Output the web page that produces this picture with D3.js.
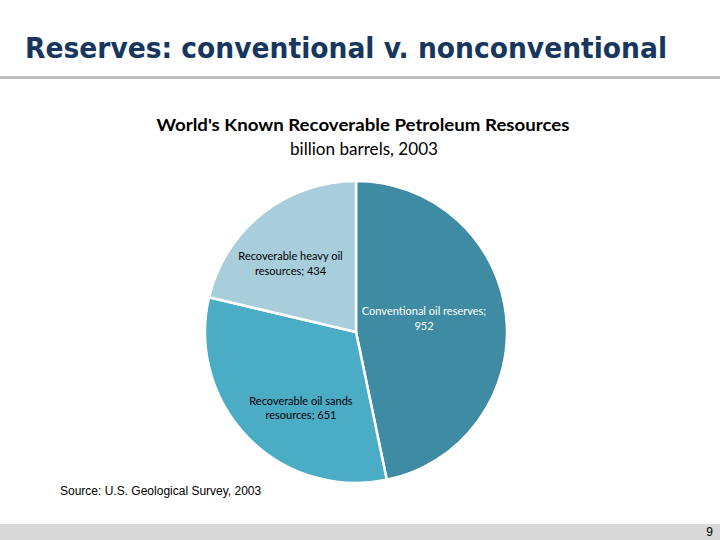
<!DOCTYPE html>
<html><head><meta charset="utf-8">
<script src="https://cdn.jsdelivr.net/npm/d3@7"></script>
<style>body{margin:0;background:#fff}svg{display:block}</style>
</head><body><svg id="c" width="720" height="540"></svg>
<script>
const categories = ["Conventional oil reserves", "Recoverable oil sands resources", "Recoverable heavy oil resources"];
const values = [952, 651, 434];
const labelLines = [["Conventional oil reserves;", "952"], ["Recoverable oil sands", "resources; 651"], ["Recoverable heavy oil", "resources; 434"]];
const colors = ["#3E8BA3", "#4BACC6", "#A8CDDB"];
const labelColors = ["#ffffff", "#000000", "#000000"];

const svg = d3.select("#c");
// title
svg.append("text").attr("x", 25).attr("y", 58)
  .attr("font-family", "DejaVu Sans Condensed, DejaVu Sans").attr("font-weight", "bold")
  .attr("font-size", 29).attr("fill", "#17375E")
  .attr("textLength", 642).attr("lengthAdjust", "spacingAndGlyphs")
  .text("Reserves: conventional v. nonconventional");
svg.append("rect").attr("x", 0).attr("y", 76).attr("width", 720).attr("height", 3).attr("fill", "#BFBFBF");

svg.append("text").attr("x", 363).attr("y", 131).attr("text-anchor", "middle")
  .attr("font-family", "Lato, Open Sans").attr("font-weight", "bold").attr("font-size", 17)
  .attr("fill", "#000").attr("textLength", 413).attr("lengthAdjust", "spacingAndGlyphs")
  .text("World's Known Recoverable Petroleum Resources");
svg.append("text").attr("x", 364).attr("y", 155).attr("text-anchor", "middle")
  .attr("font-family", "Lato, Open Sans").attr("font-size", 17)
  .attr("fill", "#000").attr("textLength", 148).attr("lengthAdjust", "spacingAndGlyphs")
  .text("billion barrels, 2003");

const cx = 356, cy = 332, R = 151;
const pie = d3.pie().sort(null).value(d => d)(values);
const arc = d3.arc().innerRadius(0).outerRadius(R);
const g = svg.append("g").attr("transform", `translate(${cx},${cy})`);
g.selectAll("path").data(pie).join("path")
  .attr("d", arc).attr("fill", (d, i) => colors[i])
  .attr("stroke", "#fff").attr("stroke-width", 2.5).attr("stroke-linejoin", "round");

// label placement (layout only)
const labelR = [0.46, 0.62, 0.63];
const angleShift = [-0.1, -0.17, -0.09];
g.selectAll("text.lbl").data(pie).join("text").attr("class", "lbl")
  .attr("text-anchor", "middle")
  .attr("font-family", "Lato, Open Sans").attr("font-size", 11)
  .attr("fill", (d, i) => labelColors[i])
  .each(function (d, i) {
    const a = (d.startAngle + d.endAngle) / 2 + angleShift[i];
    const r = R * labelR[i];
    const x = r * Math.sin(a), y = -r * Math.cos(a);
    const t = d3.select(this);
    labelLines[i].forEach((ln, k) => {
      t.append("tspan").attr("x", x).attr("y", y - 3 + k * 14.5).text(ln);
    });
  });

svg.append("text").attr("x", 60).attr("y", 495)
  .attr("font-family", "Liberation Sans, Arial").attr("font-size", 12).attr("fill", "#000")
  .text("Source: U.S. Geological Survey, 2003");

svg.append("rect").attr("x", 0).attr("y", 524).attr("width", 720).attr("height", 16).attr("fill", "#D9D9D9");
svg.append("text").attr("x", 713).attr("y", 536).attr("text-anchor", "end")
  .attr("font-family", "Liberation Sans, Arial").attr("font-size", 12).attr("fill", "#000").text("9");
</script></body></html>
